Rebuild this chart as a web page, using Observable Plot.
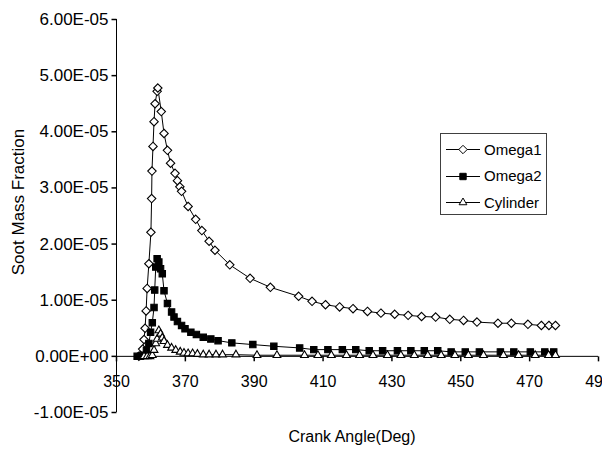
<!DOCTYPE html>
<html><head><meta charset="utf-8">
<script src="https://cdn.jsdelivr.net/npm/d3@7"></script>
<script src="https://cdn.jsdelivr.net/npm/@observablehq/plot@0.6"></script>
<style>
body{margin:0;background:#fff;font-family:"Liberation Sans",Arial,sans-serif;color:#000;}
#wrap{position:relative;width:602px;height:452px;overflow:hidden;}
#wrap svg.plot{display:block;}
.ttl{position:absolute;white-space:nowrap;line-height:1;}
#ytitle{left:18px;top:202px;font-size:17px;transform:translate(-50%,-50%) rotate(-90deg);}
#xtitle{left:352px;top:437px;font-size:16px;transform:translate(-50%,-50%);}
#legend{position:absolute;left:440px;top:133px;width:105px;height:80px;border:1px solid #404040;background:#fff;box-sizing:content-box;}
.lrow{position:absolute;left:5px;height:20px;display:flex;align-items:center;font-size:15px;}
.lrow svg{margin-right:3px;}
</style></head><body><div id="wrap"></div><script>
// ---- data ----
const seriesNames = ["Omega1", "Omega2", "Cylinder"];

const omega1Angle = [356.5, 357.0, 357.6, 358.0, 358.3, 358.6, 358.9, 359.4, 360.0, 360.2,
  360.3, 360.6, 360.9, 361.2, 361.8, 362.0, 363.0, 363.8, 364.8, 365.7,
  367.0, 367.7, 368.4, 368.9, 370.8, 373.0, 374.8, 376.9, 378.6, 382.9,
  388.8, 394.7, 402.9, 406.8, 410.7, 414.8, 418.7, 422.9, 426.8, 430.8,
  434.7, 438.6, 442.7, 446.8, 450.8, 454.7, 460.8, 464.7, 469.5, 473.4,
  475.6, 477.5];
const omega1Value = [0.00e-5, 0.02e-5, 0.13e-5, 0.30e-5, 0.50e-5, 0.81e-5, 1.21e-5, 1.65e-5, 2.21e-5, 2.81e-5,
  3.30e-5, 3.74e-5, 4.18e-5, 4.50e-5, 4.72e-5, 4.78e-5, 4.36e-5, 3.97e-5, 3.67e-5, 3.44e-5,
  3.26e-5, 3.13e-5, 3.02e-5, 2.94e-5, 2.67e-5, 2.44e-5, 2.24e-5, 2.05e-5, 1.89e-5, 1.63e-5,
  1.39e-5, 1.23e-5, 1.07e-5, 0.98e-5, 0.92e-5, 0.88e-5, 0.85e-5, 0.80e-5, 0.77e-5, 0.75e-5,
  0.73e-5, 0.71e-5, 0.70e-5, 0.66e-5, 0.64e-5, 0.61e-5, 0.59e-5, 0.59e-5, 0.57e-5, 0.55e-5,
  0.55e-5, 0.55e-5];

const omega2Angle = [356.0, 357.0, 358.0, 358.7, 359.4, 359.9, 360.4, 360.9, 361.1, 361.4,
  361.8, 362.3, 362.8, 363.3, 363.8, 364.8, 366.0, 366.7, 367.7, 368.9,
  369.9, 371.6, 373.2, 375.2, 377.4, 379.5, 383.5, 389.6, 395.7, 403.2,
  407.3, 411.4, 415.6, 419.5, 423.4, 427.3, 431.6, 435.5, 439.4, 443.3,
  447.2, 451.3, 455.4, 461.5, 465.4, 470.2, 474.4, 477.0];
const omega2Value = [0.00e-5, 0.00e-5, 0.02e-5, 0.11e-5, 0.23e-5, 0.43e-5, 0.60e-5, 0.87e-5, 1.18e-5, 1.59e-5,
  1.74e-5, 1.68e-5, 1.56e-5, 1.47e-5, 1.17e-5, 0.94e-5, 0.79e-5, 0.70e-5, 0.62e-5, 0.55e-5,
  0.49e-5, 0.43e-5, 0.39e-5, 0.34e-5, 0.31e-5, 0.28e-5, 0.24e-5, 0.21e-5, 0.18e-5, 0.15e-5,
  0.12e-5, 0.12e-5, 0.12e-5, 0.12e-5, 0.10e-5, 0.10e-5, 0.10e-5, 0.10e-5, 0.10e-5, 0.10e-5,
  0.08e-5, 0.08e-5, 0.08e-5, 0.08e-5, 0.08e-5, 0.08e-5, 0.08e-5, 0.08e-5];

const cylinderAngle = [358.0, 358.9, 359.7, 360.4, 360.9, 361.4, 361.8, 362.3, 362.8, 363.3,
  363.8, 364.8, 366.0, 367.2, 368.5, 369.6, 370.8, 372.1, 373.5, 375.2,
  376.9, 378.9, 380.8, 384.7, 390.8, 396.6, 404.6, 408.5, 412.4, 416.8,
  420.6, 424.5, 428.7, 432.6, 436.5, 440.4, 444.3, 448.3, 452.2, 456.6,
  462.4, 466.8, 471.6, 475.5, 477.5];
const cylinderValue = [0.00e-5, 0.00e-5, 0.00e-5, 0.02e-5, 0.11e-5, 0.23e-5, 0.31e-5, 0.46e-5, 0.40e-5, 0.33e-5,
  0.27e-5, 0.20e-5, 0.15e-5, 0.11e-5, 0.08e-5, 0.06e-5, 0.05e-5, 0.05e-5, 0.04e-5, 0.03e-5,
  0.03e-5, 0.03e-5, 0.03e-5, 0.03e-5, 0.02e-5, 0.02e-5, 0.02e-5, 0.02e-5, 0.02e-5, 0.02e-5,
  0.02e-5, 0.02e-5, 0.02e-5, 0.02e-5, 0.02e-5, 0.02e-5, 0.02e-5, 0.02e-5, 0.02e-5, 0.02e-5,
  0.02e-5, 0.02e-5, 0.02e-5, 0.02e-5, 0.02e-5];

const xTicks = [350, 370, 390, 410, 430, 450, 470, 490];
const xTickLabels = ["350", "370", "390", "410", "430", "450", "470", "490"];
const yTicks = [-1e-5, 0, 1e-5, 2e-5, 3e-5, 4e-5, 5e-5, 6e-5];
const yTickLabels = ["-1.00E-05", "0.00E+00", "1.00E-05", "2.00E-05", "3.00E-05", "4.00E-05", "5.00E-05", "6.00E-05"];
const xTitle = "Crank Angle(Deg)";
const yTitle = "Soot Mass Fraction";

// ---- build ----
const toRows = (ang, val) => ang.map((a, i) => ({angle: a, value: val[i]}));
const data = [toRows(omega1Angle, omega1Value), toRows(omega2Angle, omega2Value), toRows(cylinderAngle, cylinderValue)];
const styles = [
  {symbol: "diamond2", d3sym: d3.symbolDiamond2, fill: "#fff", r: 3.8},
  {symbol: "square", d3sym: d3.symbolSquare, fill: "#000", r: 3.6},
  {symbol: "triangle2", d3sym: d3.symbolTriangle2, fill: "#fff", r: 3.7}
];
const tickDown = {draw(c) { c.moveTo(0, 0); c.lineTo(0, 5); }};
const tickLeft = {draw(c) { c.moveTo(0, 0); c.lineTo(-5, 0); }};

const seriesMarks = data.flatMap((rows, k) => [
  Plot.line(rows, {x: "angle", y: "value", stroke: "#000", strokeWidth: 1}),
  Plot.dot(rows, {x: "angle", y: "value", symbol: styles[k].symbol, r: styles[k].r, fill: styles[k].fill, stroke: "#000", strokeWidth: 1.1})
]);

const chart = Plot.plot({
  width: 602, height: 452,
  marginLeft: 116, marginRight: 4, marginTop: 19, marginBottom: 40,
  x: {domain: [350, 490], axis: null},
  y: {domain: [-1e-5, 6e-5], axis: null},
  style: {fontFamily: '"Liberation Sans", Arial, sans-serif', fontSize: "16px", background: "transparent", color: "#000"},
  marks: [
    Plot.ruleX([350], {stroke: "#000"}),
    Plot.ruleY([0], {stroke: "#000"}),
    Plot.dot(yTicks, {x: () => 350, y: d => d, symbol: tickLeft, fill: "none", stroke: "#000"}),
    Plot.text(yTicks, {x: () => 350, y: d => d, text: (d, i) => yTickLabels[i], textAnchor: "end", dx: -8, fill: "#000", fontSize: 17}),
    Plot.dot(xTicks, {x: d => d, y: () => 0, symbol: tickDown, fill: "none", stroke: "#000"}),
    Plot.text(xTicks, {x: d => d, y: () => 0, text: (d, i) => xTickLabels[i], dy: 26, fill: "#000", fontSize: 16}),
    ...seriesMarks
  ]
});

const wrap = document.getElementById("wrap");
wrap.appendChild(chart);

const yt = document.createElement("div"); yt.id = "ytitle"; yt.className = "ttl"; yt.textContent = yTitle; wrap.appendChild(yt);
const xt = document.createElement("div"); xt.id = "xtitle"; xt.className = "ttl"; xt.textContent = xTitle; wrap.appendChild(xt);

// legend
const legend = d3.select(wrap).append("div").attr("id", "legend");
seriesNames.forEach((name, k) => {
  const row = legend.append("div").attr("class", "lrow").style("top", (5 + k * 26.5) + "px");
  const svg = row.append("svg").attr("width", 35).attr("height", 14);
  svg.append("line").attr("x1", 0).attr("x2", 34).attr("y1", 7.5).attr("y2", 7.5).attr("stroke", "#000");
  const size = Math.PI * styles[k].r * styles[k].r;
  svg.append("path").attr("d", d3.symbol(styles[k].d3sym, size)())
    .attr("transform", "translate(17,7.5)").attr("fill", styles[k].fill).attr("stroke", "#000");
  row.append("span").text(name);
});
</script></body></html>
